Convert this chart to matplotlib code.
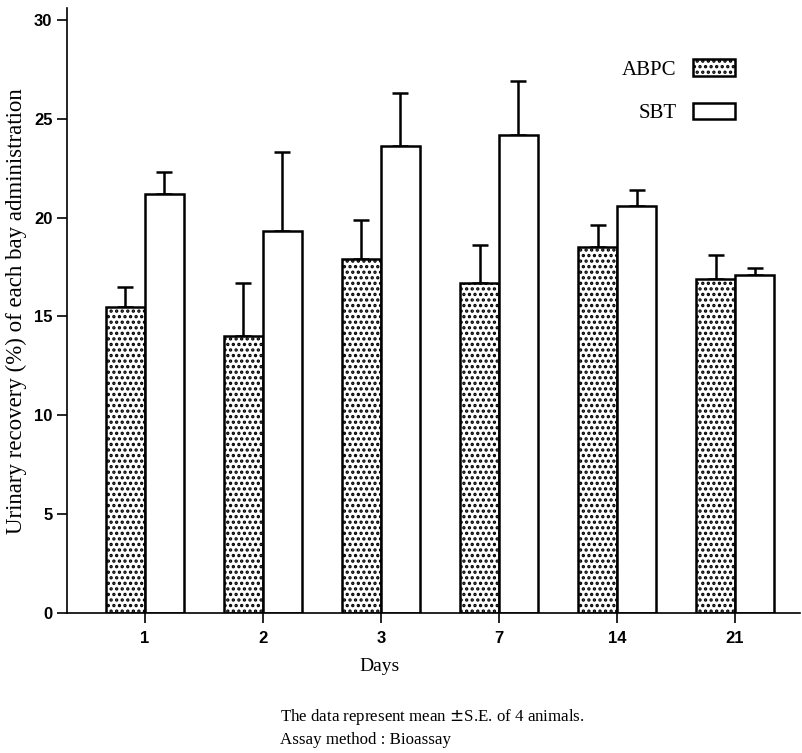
import matplotlib
matplotlib.use("Agg")
import matplotlib.pyplot as plt
from matplotlib.patches import Patch
import numpy as np

days = ["1", "2", "3", "7", "14", "21"]
abpc_mean = [15.5, 14.0, 17.9, 16.7, 18.5, 16.9]
abpc_se = [1.0, 2.7, 2.0, 1.9, 1.1, 1.2]
sbt_mean = [21.2, 19.3, 23.6, 24.2, 20.6, 17.1]
sbt_se = [1.1, 4.0, 2.7, 2.7, 0.8, 0.35]
yticks = [0, 5, 10, 15, 20, 25, 30]

serif = ["Liberation Serif", "DejaVu Serif"]
narrow = ["Liberation Sans Narrow", "Liberation Sans", "DejaVu Sans"]

plt.rcParams["hatch.linewidth"] = 1.6
fig = plt.figure(figsize=(8.02, 7.53), dpi=100)
ax = fig.add_axes([67/802, 1-613/753, (800-67)/802, 605/753])

x = np.arange(len(days))
w = 0.33
ax.bar(x - w/2, abpc_mean, w, color="white", edgecolor="black", hatch="...",
       linewidth=1.8, zorder=2)
ax.bar(x + w/2, sbt_mean, w, color="white", edgecolor="black",
       linewidth=1.8, zorder=2)
ax.errorbar(x - w/2, abpc_mean, yerr=[np.zeros(len(days)), abpc_se], fmt="none",
            ecolor="black", elinewidth=1.8, capsize=6, capthick=1.8, zorder=1)
ax.errorbar(x + w/2, sbt_mean, yerr=[np.zeros(len(days)), sbt_se], fmt="none",
            ecolor="black", elinewidth=1.8, capsize=6, capthick=1.8, zorder=1)

ax.set_xlim(-0.66, 5.55)
ax.set_ylim(0, 30.6)
ax.set_xticks(x)
ax.set_xticklabels(days)
ax.set_yticks(yticks)
for lab in ax.get_xticklabels() + ax.get_yticklabels():
    lab.set_family(narrow)
    lab.set_fontweight("bold")
    lab.set_fontsize(12)
ax.tick_params(axis="both", direction="out", length=7, width=1.2, colors="black")
ax.tick_params(axis="x", pad=6)
ax.spines["top"].set_visible(False)
ax.spines["right"].set_visible(False)
ax.spines["left"].set_linewidth(1.2)
ax.spines["bottom"].set_linewidth(1.2)

ax.set_xlabel("Days", family=serif, fontsize=14)
ax.xaxis.set_label_coords((380-67)/733, (613-658)/605)
ax.set_ylabel("Urinary recovery (%) of each bay administration", family=serif,
              fontsize=16.5)
ax.yaxis.set_label_coords((27-67)/733, (613-311)/605)

handles = [Patch(facecolor="white", edgecolor="black", hatch="...", linewidth=1.8),
           Patch(facecolor="white", edgecolor="black", linewidth=1.8)]
ax.legend(handles, ["ABPC", "SBT"], loc="upper right", bbox_to_anchor=(0.911, 0.915),
          frameon=False, markerfirst=False, borderpad=0, borderaxespad=0,
          handlelength=2.0, handleheight=0.85, handletextpad=0.8, labelspacing=1.1,
          prop={"family": serif, "size": 15})

fig.text(280/802, 1-717/753, "The data represent mean $\\pm$S.E. of 4 animals.",
         family=serif, fontsize=12.2, va="center", ha="left")
fig.text(280/802, 1-740/753, "Assay method : Bioassay",
         family=serif, fontsize=12.2, va="center", ha="left")

fig.savefig("out.png", dpi=100, facecolor="white")
